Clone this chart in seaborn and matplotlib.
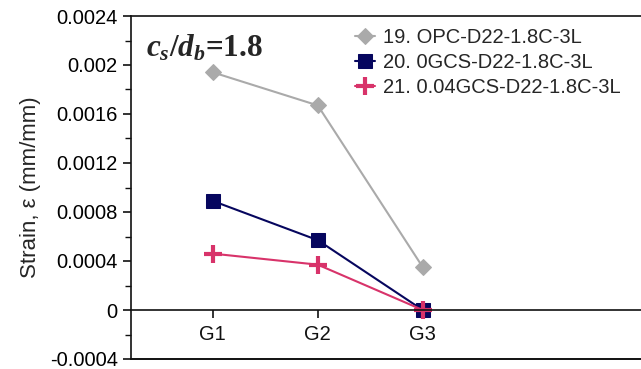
import numpy as np
import pandas as pd
import matplotlib
matplotlib.use("Agg")
import matplotlib.pyplot as plt
import seaborn as sns
from matplotlib.ticker import MultipleLocator

# values
gauges = ["G1", "G2", "G3"]
opc = [0.00194, 0.00167, 0.00035]
gcs0 = [0.00089, 0.00057, 0.00000]
gcs004 = [0.00046, 0.00037, 0.00000]
series_names = ["19. OPC-D22-1.8C-3L", "20. 0GCS-D22-1.8C-3L", "21. 0.04GCS-D22-1.8C-3L"]
yticks = [-0.0004, 0, 0.0004, 0.0008, 0.0012, 0.0016, 0.002, 0.0024]
ytick_labels = ["-0.0004", "0", "0.0004", "0.0008", "0.0012", "0.0016", "0.002", "0.0024"]

sns.set_style("ticks")
plt.rcParams['font.family'] = ['Liberation Sans', 'DejaVu Sans']
plt.rcParams['mathtext.fontset'] = 'custom'
plt.rcParams['mathtext.it'] = 'Liberation Serif:italic:bold'
plt.rcParams['mathtext.rm'] = 'Liberation Serif:bold'
plt.rcParams['mathtext.bf'] = 'Liberation Serif:bold'

fig = plt.figure(figsize=(6.41, 3.69), dpi=100)
ax = fig.add_axes([131 / 641, 1 - 359 / 369, 1 - 131 / 641, (359 - 16) / 369])

styles = [
    dict(color="#aaaaaa", marker="D", markersize=8, markeredgecolor="#aaaaaa"),
    dict(color="#06065e", marker="s", markersize=10, markeredgecolor="#06065e"),
    dict(color="#d8336a", marker="+", markersize=13, markeredgewidth=3, markeredgecolor="#d8336a"),
]
for name, vals, st in zip(series_names, [opc, gcs0, gcs004], styles):
    df = pd.DataFrame({"gauge": gauges, "strain": vals})
    sns.lineplot(data=df, x="gauge", y="strain", ax=ax, label=name,
                 linewidth=1.5, **st)

ax.set_xlim(-0.78, 4.08)
ax.set_ylim(-0.0004, 0.0024)
ax.set_yticks(yticks)
ax.set_yticklabels(ytick_labels)
ax.yaxis.set_minor_locator(MultipleLocator(0.0002))
ax.tick_params(axis="y", which="major", direction="out", length=6, width=1.2, labelsize=14.5, colors="#111111")
ax.tick_params(axis="y", which="minor", direction="out", length=4, width=1.0, colors="#111111")
ax.tick_params(axis="x", direction="out", length=6, width=1.2, labelsize=14.5, pad=5, colors="#111111")
for lbl in ax.get_yticklabels() + ax.get_xticklabels():
    lbl.set_color("black")

# x axis drawn along zero, with a frame line at the bottom
ax.spines["bottom"].set_position(("data", 0))
ax.spines["right"].set_visible(False)
for s in ["left", "top", "bottom"]:
    ax.spines[s].set_linewidth(1.2)
    ax.spines[s].set_color("#111111")
ax.axhline(-0.0004, color="#111111", linewidth=1.4, clip_on=False)

ax.set_xlabel("")
ax.set_ylabel("Strain, ε (mm/mm)", fontsize=16, labelpad=6)

ax.text(0.03, 0.905, r"$c_s/d_b$=1.8", transform=ax.transAxes, ha="left", va="center",
        fontsize=22.5, fontweight="bold", fontfamily="Liberation Serif")

leg = ax.legend(loc="upper left", bbox_to_anchor=(0.415, 1.0), frameon=False,
                fontsize=14.5, handlelength=1.0, handletextpad=0.4, labelspacing=0.3,
                borderaxespad=0.2)

fig.savefig("out.png", dpi=100)
